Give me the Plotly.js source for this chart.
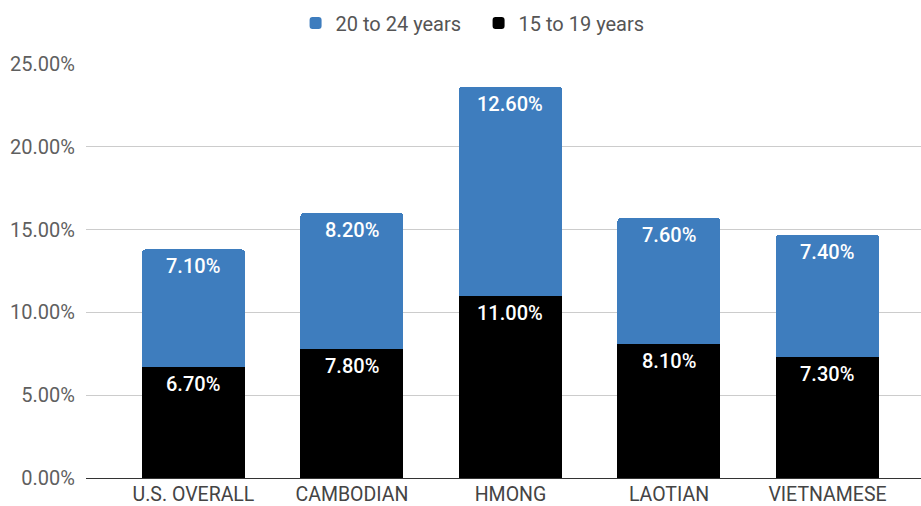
<!DOCTYPE html>
<html>
<head>
<meta charset="utf-8">
<script src="https://cdn.plot.ly/plotly-3.0.1.min.js"></script>
<style>html,body{margin:0;padding:0;background:#fff;}#chart{width:921px;height:506px;}</style>
</head>
<body>
<div id="chart"></div>
<script>
const categories = ["U.S. OVERALL", "CAMBODIAN", "HMONG", "LAOTIAN", "VIETNAMESE"];
const age15to19 = [6.7, 7.8, 11.0, 8.1, 7.3];
const age20to24 = [7.1, 8.2, 12.6, 7.6, 7.4];
const yTicks = [0, 5, 10, 15, 20, 25];

const BLUE = "#3e7dbe";
const xIdx = categories.map((c, i) => i);

const traces = [
  {type: "bar", name: "15 to 19 years", x: xIdx, y: age15to19, marker: {color: "#000000"}, width: 0.65, hoverinfo: "none"},
  {type: "bar", name: "20 to 24 years", x: xIdx, y: age20to24, marker: {color: BLUE}, width: 0.65, hoverinfo: "none"}
];

const labelFont = {family: "Roboto", size: 20, color: "#ffffff", weight: 500};
const annotations = [];
xIdx.forEach((i) => {
  annotations.push({x: i, y: age15to19[i], xref: "x", yref: "y", text: age15to19[i].toFixed(2) + "%",
    showarrow: false, yanchor: "middle", yshift: -17, font: labelFont});
  const top = age15to19[i] + age20to24[i];
  annotations.push({x: i, y: top, xref: "x", yref: "y", text: age20to24[i].toFixed(2) + "%",
    showarrow: false, yanchor: "middle", yshift: -17, font: labelFont});
});

const layout = {
  width: 921, height: 506,
  margin: {l: 86, r: 0, t: 64, b: 28},
  paper_bgcolor: "#ffffff", plot_bgcolor: "#ffffff",
  barmode: "stack",
  barcornerradius: 3,
  font: {family: "Roboto", size: 20, color: "#5f5f5f"},
  showlegend: true,
  legend: {orientation: "h", x: 0.251, xanchor: "left", y: 1.099, yanchor: "middle", traceorder: "reversed",
    font: {family: "Roboto", size: 20, color: "#555555"}, itemclick: false,
    entrywidthmode: "pixels", entrywidth: 138},
  xaxis: {
    range: [-0.678, 4.59], tickmode: "array", tickvals: xIdx, ticktext: categories,
    showgrid: false, zeroline: false, showline: true, linecolor: "#333333", linewidth: 1,
    ticks: "", ticklen: 0, ticklabelstandoff: -1,
    tickfont: {family: "Roboto", size: 19.5, color: "#444444"}, fixedrange: true
  },
  yaxis: {
    range: [0, 25], tickmode: "array", tickvals: yTicks, ticktext: yTicks.map(v => v.toFixed(2) + "%"),
    showgrid: true, gridcolor: "#cccccc", gridwidth: 1, zeroline: false, showline: false,
    ticks: "", ticklabelstandoff: 10, tickfont: {family: "Roboto", size: 20, color: "#5f5f5f"}, fixedrange: true
  },
  annotations: annotations
};

Plotly.newPlot("chart", traces, layout, {displayModeBar: false, staticPlot: true});
</script>
</body>
</html>
